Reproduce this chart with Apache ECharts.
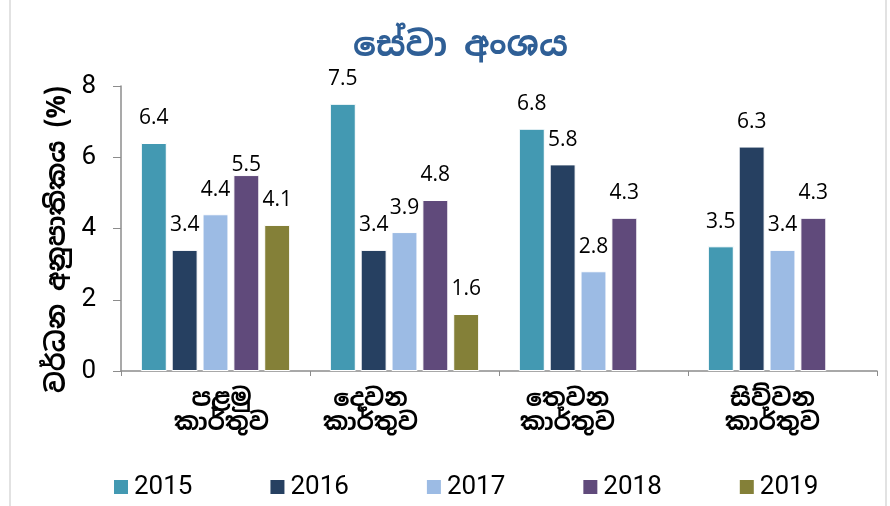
<!DOCTYPE html>
<html>
<head>
<meta charset="utf-8">
<script src="https://cdn.jsdelivr.net/npm/echarts@6/dist/echarts.min.js"></script>
<style>
  html, body { margin: 0; padding: 0; background: #fff; }
  #serviceChart { width: 890px; height: 506px; }
</style>
</head>
<body>
<div id="serviceChart"></div>
<script>
var categories = ["පළමු\nකාර්තුව", "දෙවන\nකාර්තුව", "තෙවන\nකාර්තුව", "සිව්වන\nකාර්තුව"];
var years = ["2015", "2016", "2017", "2018", "2019"];
var v2015 = [6.4, 7.5, 6.8, 3.5];
var v2016 = [3.4, 3.4, 5.8, 6.3];
var v2017 = [4.4, 3.9, 2.8, 3.4];
var v2018 = [5.5, 4.8, 4.3, 4.3];
var v2019 = [4.1, 1.6, null, null];
var yTicks = [0, 2, 4, 6, 8];

var colorList = ["#4399b2", "#264061", "#9cbbe4", "#604a7b", "#848038"];
// the category labels sit a bit off their category centre in the original
var labelShift = [6, -34, -26, -10];
var textFont = "'Open Sans', 'Noto Sans', sans-serif";
var narrowFont = "'Liberation Sans Narrow', 'Roboto', 'Open Sans', sans-serif";
var sinhalaFont = "'Noto Sans Sinhala', 'Iskoola Pota', 'Noto Sans', sans-serif";

var chart = echarts.init(document.getElementById("serviceChart"));
var values = [v2015, v2016, v2017, v2018, v2019];

var series = years.map(function (y, i) {
  return {
    name: y,
    type: "bar",
    barGap: "19%",
    barCategoryGap: "21%",
    data: values[i].map(function (v, j) {
      // 2018 Q1 label sits right on its bar
      if (i === 3 && j === 0) return { value: v, label: { distance: 0 } };
      return v;
    }),
    itemStyle: { color: colorList[i], borderColor: "#fff", borderWidth: 1 },
    label: {
      show: true,
      position: "top",
      distance: 14,
      color: "#000",
      fontSize: 21,
      fontFamily: textFont
    }
  };
});

var rich = {};
labelShift.forEach(function (s, i) {
  rich["q" + i] = {
    color: "#000",
    fontSize: 24,
    fontWeight: "bold",
    lineHeight: 24,
    fontFamily: sinhalaFont,
    padding: s > 0 ? [0, 0, 0, 2 * s] : [0, -2 * s, 0, 0]
  };
});

var option = {
  animation: false,
  title: {
    text: "සේවා අංශය",
    left: 353,
    top: 30,
    padding: 0,
    textStyle: { color: "#2f5f96", fontSize: 34, fontWeight: "bold", fontFamily: sinhalaFont }
  },
  color: colorList,
  legend: {
    left: 107,
    top: 469,
    itemWidth: 16,
    itemHeight: 16,
    itemGap: 76,
    icon: "rect",
    textStyle: { color: "#000", fontSize: 26, lineHeight: 26, width: 57, fontFamily: narrowFont }
  },
  grid: { left: 121, right: 13, top: 86, bottom: 135 },
  xAxis: {
    type: "category",
    data: categories,
    axisLine: { lineStyle: { color: "#8c8c8c", width: 1.5 } },
    axisTick: { show: true, length: 5, lineStyle: { color: "#8c8c8c" } },
    axisLabel: {
      margin: 16,
      formatter: function (val, idx) {
        return val.split("\n").map(function (line) {
          return "{q" + idx + "|" + line + "}";
        }).join("\n");
      },
      rich: rich
    }
  },
  yAxis: {
    type: "value",
    min: yTicks[0],
    max: yTicks[yTicks.length - 1],
    interval: 2,
    name: "වර්ධන අනුපාතිකය (%)",
    nameLocation: "middle",
    nameGap: 48,
    nameTextStyle: {
      color: "#000", fontSize: 26, fontWeight: "bold", fontFamily: sinhalaFont,
      padding: [0, 22, 0, 0]
    },
    splitLine: { show: false },
    axisLine: { show: true, lineStyle: { color: "#8c8c8c", width: 1.5 } },
    axisTick: { show: true, length: 8, inside: false, lineStyle: { color: "#8c8c8c" } },
    axisLabel: { color: "#000", fontSize: 26, margin: 25, fontFamily: narrowFont }
  },
  graphic: [{
    type: "rect",
    shape: { x: 10, y: -2, width: 876, height: 510 },
    style: { fill: "none", stroke: "#d9d9d9", lineWidth: 1.5 }
  }],
  series: series
};
chart.setOption(option);
</script>
</body>
</html>
